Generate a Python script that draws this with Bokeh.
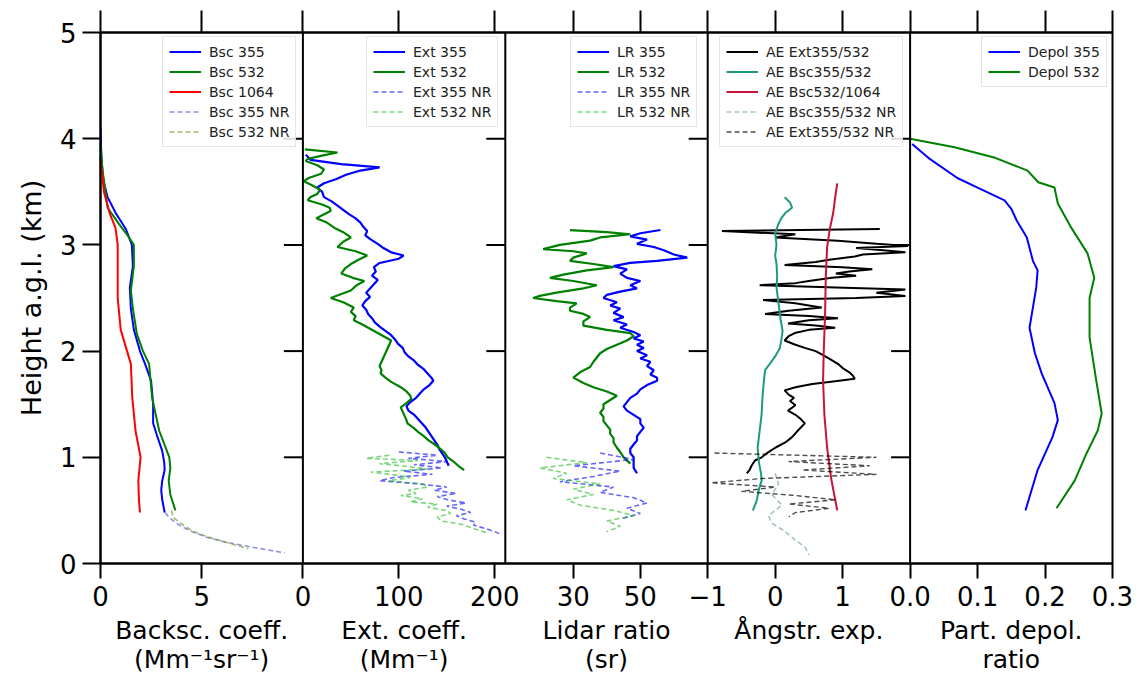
from bokeh.plotting import figure
from bokeh.models import Range1d, FixedTicker, LinearAxis, Legend, LegendItem, Span
from bokeh.embed import file_html
from bokeh.resources import INLINE

FONT = "DejaVu Sans"

# ---------------- data (height in km a.g.l.) ----------------
# Panel 1: backscatter coefficient (Mm-1 sr-1)
bsc355_h = [4.1, 3.8, 3.6, 3.45, 3.3, 3.15, 3.0, 2.8, 2.6, 2.4, 2.2, 2.0, 1.88, 1.72, 1.5, 1.32, 1.2, 1.06, 0.95, 0.88, 0.78, 0.69, 0.6, 0.48]
bsc355 = [0.0, 0.05, 0.15, 0.35, 0.75, 1.25, 1.55, 1.6, 1.45, 1.5, 1.65, 1.95, 2.2, 2.5, 2.6, 2.6, 2.8, 3.05, 3.15, 3.17, 3.05, 3.0, 3.05, 3.17]
bsc532_h = [3.95, 3.7, 3.5, 3.35, 3.2, 3.1, 3.0, 2.8, 2.57, 2.4, 2.16, 2.0, 1.88, 1.56, 1.25, 1.1, 1.0, 0.9, 0.78, 0.65, 0.5]
bsc532 = [0.0, 0.1, 0.25, 0.35, 0.9, 1.3, 1.65, 1.65, 1.5, 1.6, 1.8, 2.1, 2.4, 2.55, 2.9, 3.2, 3.4, 3.45, 3.37, 3.45, 3.7]
bsc1064_h = [3.8, 3.5, 3.3, 3.16, 3.0, 2.7, 2.5, 2.2, 1.88, 1.56, 1.25, 1.0, 0.78, 0.6, 0.48]
bsc1064 = [0.0, 0.17, 0.45, 0.74, 0.85, 0.85, 0.85, 1.0, 1.5, 1.57, 1.73, 1.98, 1.87, 1.9, 1.95]
bsc355nr_h = [0.48, 0.43, 0.36, 0.31, 0.25, 0.2, 0.15, 0.1]
bsc355nr = [3.2, 3.4, 3.9, 4.4, 5.2, 6.2, 7.6, 9.1]
bsc532nr_h = [0.5, 0.43, 0.36, 0.3, 0.25, 0.2, 0.14]
bsc532nr = [3.5, 3.6, 4.1, 4.6, 5.3, 6.2, 7.3]

# Panel 2: extinction coefficient (Mm-1)
ext355_h = [3.85, 3.80, 3.76, 3.73, 3.70, 3.66, 3.62, 3.58, 3.54, 3.50, 3.45, 3.41, 3.37, 3.33, 3.29, 3.25, 3.21, 3.17, 3.13, 3.09, 3.05, 3.01, 2.97, 2.93, 2.90, 2.87, 2.83, 2.79, 2.75, 2.71, 2.67, 2.63, 2.59, 2.55, 2.51, 2.47, 2.43, 2.39, 2.35, 2.31, 2.27, 2.23, 2.19, 2.15, 2.11, 2.07, 2.03, 1.99, 1.95, 1.91, 1.87, 1.83, 1.79, 1.75, 1.72, 1.68, 1.64, 1.60, 1.56, 1.52, 1.48, 1.44, 1.40, 1.36, 1.32, 1.28, 1.24, 1.20, 1.16, 1.12, 1.08, 1.04, 1.00, 0.96, 0.92]
ext355 = [3, 8, 40, 80, 60, 45, 35, 22, 15, 20, 22, 30, 36, 42, 48, 55, 60, 63, 67, 65, 71, 78, 84, 92, 105, 100, 80, 74, 76, 72, 78, 74, 70, 66, 70, 65, 62, 66, 68, 72, 75, 80, 86, 92, 96, 99, 104, 106, 110, 116, 120, 126, 130, 134, 136, 132, 126, 122, 118, 112, 108, 110, 116, 120, 124, 128, 131, 134, 137, 140, 142, 145, 148, 150, 152]
ext532_h = [3.90, 3.87, 3.84, 3.81, 3.79, 3.75, 3.71, 3.67, 3.63, 3.60, 3.56, 3.52, 3.48, 3.45, 3.42, 3.38, 3.35, 3.32, 3.28, 3.25, 3.21, 3.16, 3.12, 3.07, 3.03, 2.98, 2.94, 2.90, 2.86, 2.82, 2.78, 2.73, 2.69, 2.66, 2.62, 2.57, 2.53, 2.50, 2.46, 2.41, 2.37, 2.33, 2.29, 2.25, 2.21, 2.17, 2.13, 2.10, 2.06, 2.02, 1.98, 1.94, 1.90, 1.86, 1.82, 1.79, 1.75, 1.71, 1.66, 1.62, 1.58, 1.55, 1.51, 1.47, 1.43, 1.39, 1.35, 1.32, 1.28, 1.24, 1.20, 1.16, 1.13, 1.09, 1.05, 1.00, 0.96, 0.92, 0.88]
ext532 = [2, 36, 20, 5, 3, 15, 22, 19, 6, 1, 10, 18, 15, 8, 5, 20, 28, 29, 20, 14, 25, 33, 42, 50, 42, 36, 55, 67, 58, 50, 44, 40, 52, 64, 56, 50, 38, 29, 42, 53, 50, 55, 53, 62, 70, 78, 86, 92, 90, 88, 86, 84, 82, 80, 82, 81, 86, 92, 102, 108, 112, 113, 108, 102, 104, 106, 108, 109, 115, 120, 126, 131, 136, 142, 147, 151, 157, 162, 168]
ext355nr_h = [1.05, 1.02, 0.99, 0.96, 0.93, 0.90, 0.87, 0.84, 0.81, 0.78, 0.75, 0.72, 0.69, 0.66, 0.63, 0.60, 0.57, 0.54, 0.51, 0.48, 0.45, 0.42, 0.39, 0.36, 0.33, 0.30, 0.28]
ext355nr = [100, 140, 110, 150, 116, 145, 105, 135, 95, 80, 120, 150, 137, 160, 140, 151, 170, 150, 165, 175, 160, 168, 180, 178, 190, 200, 205]
ext532nr_h = [1.02, 0.99, 0.97, 0.94, 0.92, 0.89, 0.86, 0.83, 0.81, 0.78, 0.75, 0.72, 0.69, 0.66, 0.64, 0.61, 0.58, 0.56, 0.53, 0.50, 0.47, 0.44, 0.40, 0.37, 0.33, 0.30, 0.29]
ext532nr = [90, 66, 120, 80, 102, 130, 71, 100, 112, 90, 125, 130, 110, 118, 102, 125, 112, 140, 130, 150, 154, 140, 144, 165, 178, 188, 192]

# Panel 3: lidar ratio (sr)
lr355_h = [3.14, 3.11, 3.08, 3.05, 3.01, 2.98, 2.95, 2.91, 2.88, 2.85, 2.83, 2.80, 2.77, 2.73, 2.69, 2.66, 2.62, 2.59, 2.56, 2.53, 2.50, 2.46, 2.43, 2.40, 2.36, 2.32, 2.29, 2.25, 2.22, 2.18, 2.15, 2.12, 2.09, 2.06, 2.03, 2.00, 1.96, 1.93, 1.90, 1.86, 1.82, 1.78, 1.75, 1.72, 1.68, 1.64, 1.60, 1.56, 1.52, 1.48, 1.44, 1.40, 1.36, 1.32, 1.28, 1.24, 1.20, 1.16, 1.12, 1.08, 1.04, 1.00, 0.95, 0.90, 0.85]
lr355 = [56, 50, 47, 52, 49, 54, 57, 60, 64, 55, 47, 42, 46, 44, 46, 50, 47, 49, 44, 40, 39, 43, 41, 44, 42, 45, 42, 46, 44, 48, 50, 48, 51, 49, 51, 49, 52, 50, 53, 52, 54, 53, 55, 55, 52, 50, 49, 47, 46, 45, 46, 48, 50, 50, 51, 50, 49, 49, 48, 47, 47, 48, 48, 48, 49]
lr532_h = [3.14, 3.12, 3.10, 3.07, 3.04, 3.00, 2.96, 2.94, 2.92, 2.88, 2.85, 2.82, 2.79, 2.76, 2.72, 2.69, 2.66, 2.62, 2.59, 2.55, 2.52, 2.50, 2.47, 2.45, 2.41, 2.38, 2.35, 2.32, 2.28, 2.24, 2.20, 2.17, 2.14, 2.10, 2.06, 2.02, 1.98, 1.94, 1.90, 1.85, 1.80, 1.75, 1.70, 1.66, 1.62, 1.58, 1.54, 1.50, 1.46, 1.42, 1.38, 1.34, 1.30, 1.26, 1.22, 1.18, 1.14, 1.09, 1.05, 1.00, 0.94]
lr532 = [29, 40, 47, 38, 35, 26, 21, 30, 34, 30, 29, 36, 42, 34, 27, 23, 30, 37, 33, 25, 20, 18, 25, 31, 29, 29, 33, 35, 33, 33, 40, 47, 48, 46, 43, 40, 38, 37, 36, 35, 32, 30, 33, 36, 40, 43, 41, 39, 39, 38, 39, 39, 40, 41, 41, 42, 42, 43, 44, 45, 47]
lr355nr_h = [1.04, 0.98, 0.92, 0.87, 0.82, 0.77, 0.72, 0.67, 0.62, 0.57, 0.52, 0.47, 0.42]
lr355nr = [38, 48, 30, 44, 36, 26, 42, 38, 48, 52, 46, 50, 44]
lr532nr_h = [1.0, 0.95, 0.9, 0.85, 0.8, 0.75, 0.7, 0.65, 0.6, 0.55, 0.5, 0.45, 0.4, 0.35, 0.3]
lr532nr = [22, 34, 20, 28, 24, 38, 30, 36, 28, 32, 42, 48, 40, 44, 40]

# Panel 4: Angstroem exponents
ae_ext_h = [3.15, 3.13, 3.10, 3.07, 3.04, 3.01, 2.99, 2.97, 2.95, 2.93, 2.91, 2.89, 2.86, 2.84, 2.81, 2.79, 2.77, 2.75, 2.73, 2.71, 2.69, 2.66, 2.64, 2.62, 2.60, 2.58, 2.55, 2.52, 2.50, 2.48, 2.45, 2.43, 2.41, 2.38, 2.35, 2.33, 2.31, 2.29, 2.26, 2.24, 2.22, 2.20, 2.17, 2.14, 2.10, 2.06, 2.03, 2.00, 1.97, 1.93, 1.88, 1.84, 1.80, 1.77, 1.74, 1.71, 1.69, 1.66, 1.63, 1.59, 1.56, 1.53, 1.49, 1.44, 1.40, 1.36, 1.32, 1.28, 1.24, 1.19, 1.14, 1.09, 1.04, 1.00, 0.97, 0.92, 0.88, 0.85]
ae_ext = [1.55, -0.79, 0.3, 0.0, 0.93, 1.5, 1.97, 1.2, 1.6, 1.93, 1.3, 1.18, 0.8, 0.6, 0.14, 1.0, 1.44, 1.1, 0.9, 1.2, 0.84, 0.5, 0.3, -0.23, 0.9, 1.93, 1.5, 1.93, 1.2, -0.18, 0.3, 0.5, 0.69, 0.2, -0.15, 0.5, 0.93, 0.5, 0.19, 0.6, 0.89, 0.5, 0.29, 0.2, 0.14, 0.3, 0.44, 0.6, 0.69, 0.8, 0.93, 1.0, 1.1, 1.15, 1.18, 0.8, 0.55, 0.3, 0.14, 0.2, 0.28, 0.22, 0.3, 0.19, 0.3, 0.38, 0.44, 0.38, 0.32, 0.25, 0.15, 0.0, -0.12, -0.2, -0.3, -0.35, -0.38, -0.42]
ae_bsc_h = [3.45, 3.40, 3.35, 3.30, 3.26, 3.20, 3.11, 3.00, 2.90, 2.82, 2.70, 2.60, 2.50, 2.40, 2.30, 2.19, 2.10, 2.03, 1.95, 1.88, 1.82, 1.70, 1.55, 1.41, 1.25, 1.09, 0.95, 0.85, 0.78, 0.70, 0.60, 0.50]
ae_bsc = [0.14, 0.22, 0.25, 0.15, 0.10, 0.05, 0.0, 0.02, 0.0, 0.02, 0.03, 0.02, 0.04, 0.06, 0.08, 0.11, 0.09, 0.07, 0.0, -0.08, -0.15, -0.17, -0.19, -0.2, -0.23, -0.26, -0.24, -0.21, -0.2, -0.24, -0.27, -0.33]
ae_bsc1064_h = [3.58, 3.45, 3.30, 3.15, 2.98, 2.7, 2.35, 2.0, 1.72, 1.4, 1.09, 0.8, 0.5]
ae_bsc1064 = [0.92, 0.89, 0.86, 0.81, 0.77, 0.75, 0.74, 0.72, 0.71, 0.73, 0.77, 0.83, 0.92]
ae_bscnr_h = [0.85, 0.75, 0.65, 0.55, 0.45, 0.38, 0.3, 0.22, 0.15, 0.08]
ae_bscnr = [0.0, 0.05, -0.05, 0.1, -0.1, -0.05, 0.15, 0.3, 0.45, 0.5]
ae_extnr_h = [1.04, 1.0, 0.96, 0.92, 0.88, 0.84, 0.8, 0.76, 0.72, 0.68, 0.64, 0.6, 0.56, 0.52, 0.48, 0.44]
ae_extnr = [-0.9, 1.5, 0.2, 1.4, 0.4, 1.5, -0.2, -0.95, 0.0, -0.5, 0.3, 0.9, 0.2, 0.8, 0.3, 0.2]

# Panel 5: particle depolarisation ratio
dep355_h = [3.95, 3.82, 3.63, 3.54, 3.42, 3.34, 3.23, 3.07, 2.85, 2.76, 2.6, 2.41, 2.22, 1.98, 1.79, 1.51, 1.35, 1.19, 0.88, 0.5]
dep355 = [0.003, 0.027, 0.07, 0.1, 0.14, 0.15, 0.158, 0.173, 0.182, 0.189, 0.187, 0.182, 0.177, 0.185, 0.195, 0.214, 0.219, 0.211, 0.189, 0.171]
dep532_h = [4.0, 3.92, 3.82, 3.7, 3.59, 3.54, 3.39, 3.16, 2.92, 2.69, 2.5, 2.13, 1.72, 1.41, 1.25, 1.03, 0.78, 0.52]
dep532 = [0.0, 0.066, 0.126, 0.174, 0.19, 0.214, 0.219, 0.239, 0.263, 0.273, 0.266, 0.266, 0.276, 0.284, 0.278, 0.261, 0.244, 0.217]

# axes description
y_ticks = [0, 1, 2, 3, 4, 5]
y_label = "Height a.g.l. (km)"
panel_ranges = [(0, 10), (0, 211), (9.7, 70.1), (-1.0, 2.0), (0.0, 0.3)]
panel_ticks = [[0, 5], [0, 100, 200], [30, 50], [-1, 0, 1], [0.0, 0.1, 0.2, 0.3]]
panel_tick_labels = [["0", "5"], ["0", "100", "200"], ["30", "50"], ["\u22121", "0", "1"], ["0.0", "0.1", "0.2", "0.3"]]
panel_xlabels = ["Backsc. coeff.\n(Mm\u207b\u00b9sr\u207b\u00b9)", "Ext. coeff.\n(Mm\u207b\u00b9)", "Lidar ratio\n(sr)", "\u00c5ngstr. exp.", "Part. depol.\nratio"]

# ---------------- figure ----------------
N = 5
FW, FH = 1012, 531
SLOT = FW / N
p = figure(frame_width=FW, frame_height=FH, x_range=Range1d(0, N), y_range=Range1d(0, 5),
           output_backend="svg", toolbar_location=None,
           min_border_left=100, min_border_right=27, min_border_top=32, min_border_bottom=115,
           background_fill_color="white", border_fill_color="white")
p.grid.visible = False
p.outline_line_color = "black"
p.outline_line_width = 2

subs = []
for i, (lo, hi) in enumerate(panel_ranges):
    subs.append(p.subplot(x_source=Range1d(lo, hi), y_source=Range1d(0, 5),
                          x_target=Range1d(i, i + 1), y_target=Range1d(0, 5)))

def ln(sub, x, y, color, width=2.0, dash="solid", alpha=1.0):
    return sub.line(x=x, y=y, line_color=color, line_width=width, line_dash=dash, line_alpha=alpha)

s1, s2, s3, s4, s5 = subs
legends_spec = []
r = [ln(s1, bsc355, bsc355_h, "blue"), ln(s1, bsc532, bsc532_h, "green"), ln(s1, bsc1064, bsc1064_h, "red"),
     ln(s1, bsc355nr, bsc355nr_h, "#4a4ac8", 1.6, "5 3", 0.6), ln(s1, bsc532nr, bsc532nr_h, "#7a9a30", 1.6, "5 3", 0.7)]
legends_spec.append((r, ["Bsc 355", "Bsc 532", "Bsc 1064", "Bsc 355 NR", "Bsc 532 NR"], 62))
r = [ln(s2, ext355, ext355_h, "blue", 2.2), ln(s2, ext532, ext532_h, "green", 2.2),
     ln(s2, ext355nr, ext355nr_h, "blue", 1.6, "5 3", 0.6), ln(s2, ext532nr, ext532nr_h, "#22bb22", 1.6, "5 3", 0.6)]
legends_spec.append((r, ["Ext 355", "Ext 532", "Ext 355 NR", "Ext 532 NR"], 266))
r = [ln(s3, lr355, lr355_h, "blue", 2.2), ln(s3, lr532, lr532_h, "green", 2.2),
     ln(s3, lr355nr, lr355nr_h, "blue", 1.6, "5 3", 0.6), ln(s3, lr532nr, lr532nr_h, "#22bb22", 1.6, "5 3", 0.6)]
legends_spec.append((r, ["LR 355", "LR 532", "LR 355 NR", "LR 532 NR"], 470))
r = [ln(s4, ae_ext, ae_ext_h, "black"), ln(s4, ae_bsc, ae_bsc_h, "#1f9a80"), ln(s4, ae_bsc1064, ae_bsc1064_h, "#c8143c"),
     ln(s4, ae_bscnr, ae_bscnr_h, "#8fb5aa", 1.6, "5 3", 0.8), ln(s4, ae_extnr, ae_extnr_h, "black", 1.4, "5 3", 0.7)]
legends_spec.append((r, ["AE Ext355/532", "AE Bsc355/532", "AE Bsc532/1064", "AE Bsc355/532 NR", "AE Ext355/532 NR"], 619))
r = [ln(s5, dep355, dep355_h, "blue"), ln(s5, dep532, dep532_h, "green")]
legends_spec.append((r, ["Depol 355", "Depol 532"], 881))

for rends, labels, left in legends_spec:
    n = len(labels)
    h = 9 + 20 * n
    leg = Legend(items=[LegendItem(label=l, renderers=[rr]) for l, rr in zip(labels, rends)],
                 location=(left, FH - 6 - h), padding=6, spacing=3, margin=0,
                 glyph_width=32, glyph_height=17, label_height=17, label_standoff=8,
                 label_text_font=FONT, label_text_font_size="14px", label_text_color="#222222",
                 border_line_color="#cccccc", border_line_width=1,
                 background_fill_color="white", background_fill_alpha=0.85)
    p.add_layout(leg)

# panel separators
for b in range(1, N):
    p.add_layout(Span(location=b, dimension="height", line_color="black", line_width=2))
# inward ticks on the separators (y ticks of each following panel)
TL = 19 / SLOT
sx0, sx1, sy = [], [], []
for b in range(1, N):
    for yt in y_ticks[1:-1]:
        sx0.append(b - TL); sx1.append(b); sy.append(yt)
p.segment(x0=sx0, y0=sy, x1=sx1, y1=sy, line_color="black", line_width=2)

# left axis
ya = p.yaxis[0]
ya.ticker = FixedTicker(ticks=y_ticks)
ya.major_tick_out = 18
ya.major_tick_in = 0
ya.major_tick_line_width = 2
ya.minor_tick_line_color = None
ya.axis_line_width = 2
ya.major_label_text_font = FONT
ya.major_label_text_font_size = "26px"
ya.major_label_text_color = "black"
ya.major_label_standoff = 6
ya.axis_label = y_label
ya.axis_label_text_font = FONT
ya.axis_label_text_font_size = "27px"
ya.axis_label_text_font_style = "normal"
ya.axis_label_text_color = "black"
ya.axis_label_standoff = 10

# bottom axis: tick positions of every panel in the slot coordinates
tick_pos, overrides = [], {}
for i, ((lo, hi), ticks, labs) in enumerate(zip(panel_ranges, panel_ticks, panel_tick_labels)):
    for t, lab in zip(ticks, labs):
        pos = round(i + (t - lo) / (hi - lo), 6)
        key = int(pos) if float(pos).is_integer() else pos
        tick_pos.append(key)
        overrides[key] = lab
xa = p.xaxis[0]
xa.ticker = FixedTicker(ticks=tick_pos)
xa.major_label_overrides = overrides
xa.major_tick_out = 15
xa.major_tick_in = 0
xa.major_tick_line_width = 2
xa.minor_tick_line_color = None
xa.axis_line_width = 2
xa.major_label_text_font = FONT
xa.major_label_text_font_size = "26px"
xa.major_label_text_color = "black"
xa.major_label_standoff = 7

# second bottom axis carrying the per-panel titles at the panel centres
title_pos = [i + 0.5 for i in range(N)]
title_axis = LinearAxis(ticker=FixedTicker(ticks=title_pos),
                        major_label_overrides={tp: t for tp, t in zip(title_pos, panel_xlabels)},
                        major_tick_out=0, major_tick_in=0, major_tick_line_color=None,
                        minor_tick_line_color=None, axis_line_color=None,
                        major_label_standoff=7, major_label_text_font=FONT,
                        major_label_text_font_size="25px", major_label_text_color="black",
                        major_label_text_line_height=1.0)
p.add_layout(title_axis, "below")

top = LinearAxis(ticker=FixedTicker(ticks=tick_pos), major_tick_out=22, major_tick_in=0,
                 major_tick_line_width=2, minor_tick_line_color=None, axis_line_width=2,
                 major_label_text_color=None)
p.add_layout(top, "above")

open("out.html", "w").write(file_html(p, INLINE))
